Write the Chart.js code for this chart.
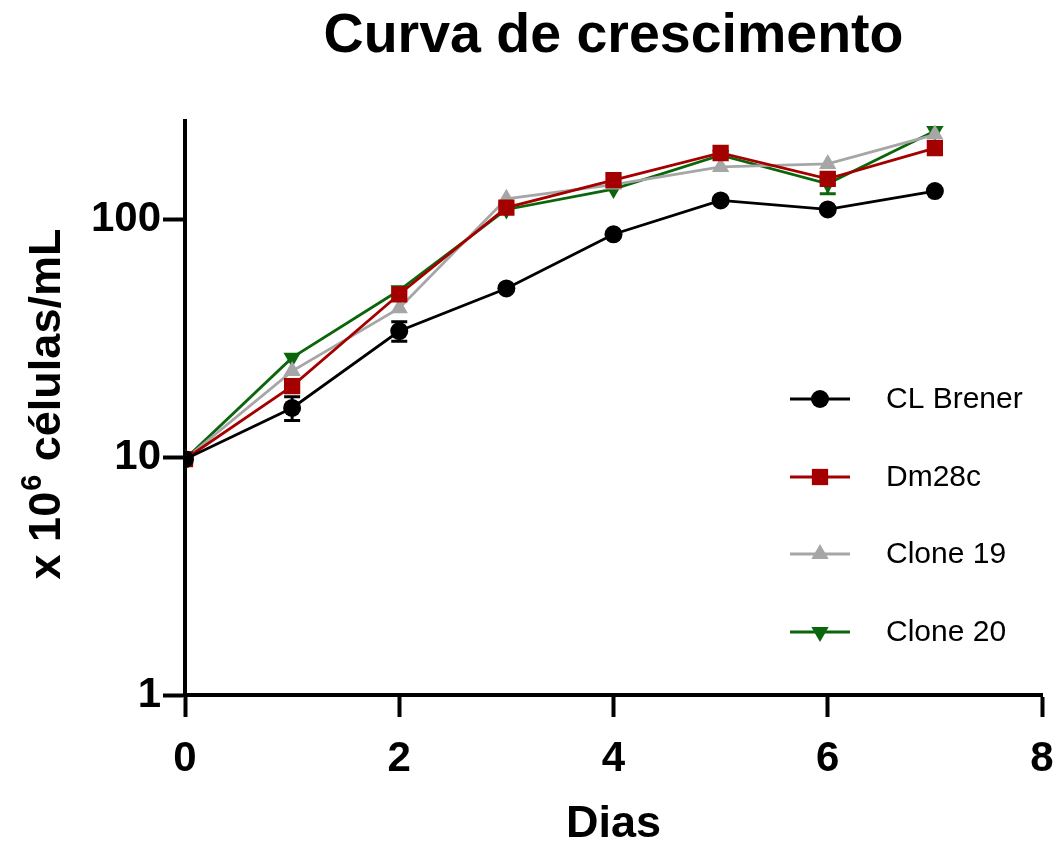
<!DOCTYPE html>
<html>
<head>
<meta charset="utf-8">
<script src="https://cdn.jsdelivr.net/npm/chart.js@4.4.1/dist/chart.umd.min.js"></script>
<style>
  html, body { margin: 0; padding: 0; background: #fff; }
</style>
</head>
<body>
<canvas id="growth" width="1057" height="843"></canvas>
<script>
// cell counts (x 10^6 cells/mL) per day
const days = [0, 1, 2, 3, 4, 5, 6, 7];
const clBrener = [9.8, 16.1, 33.9, 51.2, 86.5, 120, 110, 131.5];
const clBrenerSd = [0, 1.85, 3.2, 0, 0, 0, 0, 0];
const dm28c = [9.8, 19.9, 48.4, 112, 146, 190, 148, 199];
const dm28cSd = [0, 0, 0, 0, 0, 0, 0, 0];
const clone19 = [9.8, 23.0, 42.3, 122, 140, 166, 171, 227];
const clone19Sd = [0, 0, 0, 0, 0, 0, 0, 0];
const clone20 = [9.8, 26.2, 50.3, 110, 134, 186, 141, 235];
const clone20Sd = [0, 0, 0, 0, 0, 0, 13, 0];
const yTicks = [1, 10, 100];
const xTicks = [0, 2, 4, 6, 8];

const FONT = "'Liberation Sans', Arial, sans-serif";

const series = [
  { label: "CL Brener", values: clBrener, sd: clBrenerSd, color: "#000000", style: "circle", radius: 9, rotation: 0, order: 0 },
  { label: "Dm28c", values: dm28c, sd: dm28cSd, color: "#a50000", style: "rect", radius: 11.5, rotation: 0, order: 1 },
  { label: "Clone 19", values: clone19, sd: clone19Sd, color: "#a6a6a6", style: "triangle", radius: 10, rotation: 0, order: 2 },
  { label: "Clone 20", values: clone20, sd: clone20Sd, color: "#0b650b", style: "triangle", radius: 10, rotation: 180, order: 3 },
];

const datasets = series.map(s => ({
  label: s.label,
  data: days.map((d, i) => ({ x: d, y: s.values[i] })),
  sd: s.sd,
  borderColor: s.color,
  backgroundColor: s.color,
  borderWidth: 2.8,
  pointStyle: s.style,
  pointRadius: s.radius,
  pointRotation: s.rotation,
  pointBorderWidth: 0,
  pointBackgroundColor: s.color,
  order: s.order,
  tension: 0,
}));

// vertical error bars with caps
const errorBars = {
  id: "errorBars",
  beforeDatasetsDraw(chart) {
    const { ctx, scales: { x, y } } = chart;
    ctx.save();
    ctx.lineWidth = 3;
    chart.data.datasets.forEach(ds => {
      ctx.strokeStyle = ds.borderColor;
      ds.data.forEach((p, i) => {
        const e = ds.sd[i];
        if (!e) return;
        const px = x.getPixelForValue(p.x);
        const top = y.getPixelForValue(p.y + e);
        const bot = y.getPixelForValue(p.y - e);
        ctx.beginPath();
        ctx.moveTo(px, top); ctx.lineTo(px, bot);
        ctx.moveTo(px - 8, top); ctx.lineTo(px + 8, top);
        ctx.moveTo(px - 8, bot); ctx.lineTo(px + 8, bot);
        ctx.stroke();
      });
    });
    ctx.restore();
  }
};

// legend inside the plot + y axis title with superscript
const extras = {
  id: "extras",
  afterDraw(chart) {
    const ctx = chart.ctx;
    ctx.save();
    const rowY = [399, 477, 554, 632];
    chart.data.datasets.forEach((ds, i) => {
      const yy = rowY[i];
      ctx.strokeStyle = ds.borderColor;
      ctx.lineWidth = 2.8;
      ctx.beginPath();
      ctx.moveTo(790, yy); ctx.lineTo(850, yy);
      ctx.stroke();
      ctx.fillStyle = ds.backgroundColor;
      Chart.helpers.drawPoint(ctx, {
        pointStyle: ds.pointStyle, radius: ds.pointRadius, rotation: ds.pointRotation, borderWidth: 0
      }, 820, yy);
      ctx.fillStyle = "#000";
      ctx.font = "30px " + FONT;
      ctx.textAlign = "left";
      ctx.textBaseline = "middle";
      ctx.fillText(ds.label, 886, yy + 1);
    });

    // y axis title
    ctx.translate(48, 405);
    ctx.rotate(-Math.PI / 2);
    ctx.fillStyle = "#000";
    ctx.textBaseline = "middle";
    ctx.textAlign = "left";
    const big = "bold 45px " + FONT, small = "bold 29px " + FONT;
    const a = "x 10", b = "6", c = " células/mL";
    ctx.font = big; const wa = ctx.measureText(a).width, wc = ctx.measureText(c).width;
    ctx.font = small; const wb = ctx.measureText(b).width;
    let x0 = -(wa + wb + wc) / 2;
    ctx.font = big; ctx.fillText(a, x0, 0);
    ctx.font = small; ctx.fillText(b, x0 + wa + 1, -15);
    ctx.font = big; ctx.fillText(c, x0 + wa + wb + 2, 0);
    ctx.restore();
  }
};

new Chart(document.getElementById("growth"), {
  type: "line",
  data: { datasets },
  plugins: [errorBars, extras],
  options: {
    responsive: false,
    animation: false,
    layout: { padding: { left: 0, right: 15, top: 0, bottom: 0 } },
    plugins: {
      legend: { display: false },
      tooltip: { enabled: false },
      title: {
        display: true,
        text: "Curva de crescimento",
        fullSize: false,
        color: "#000",
        font: { family: FONT, size: 55.5, weight: "bold", lineHeight: 1.2 },
        padding: { top: 3, bottom: 51 },
      },
    },
    scales: {
      x: {
        type: "linear",
        min: 0,
        max: 8,
        afterBuildTicks: s => { s.ticks = xTicks.map(v => ({ value: v })); },
        afterFit: s => { s.height = 148; s.paddingLeft = 0; s.paddingRight = 0; },
        grid: { drawOnChartArea: false, tickLength: 22, tickWidth: 4, tickColor: "#000" },
        border: { color: "#000", width: 4 },
        ticks: { color: "#000", padding: 17, font: { family: FONT, size: 42, weight: "bold" } },
        title: {
          display: true, text: "Dias", color: "#000",
          font: { family: FONT, size: 45, weight: "bold", lineHeight: 0.8 }, padding: { top: 0, bottom: 0 }
        },
      },
      y: {
        type: "logarithmic",
        min: 1,
        max: 260,
        afterBuildTicks: s => { s.ticks = yTicks.map(v => ({ value: v })); },
        afterFit: s => { s.width = 185; },
        grid: { drawOnChartArea: false, tickLength: 22, tickWidth: 4, tickColor: "#000" },
        border: { color: "#000", width: 4 },
        ticks: {
          color: "#000", padding: 2,
          font: { family: FONT, size: 42, weight: "bold" },
          callback: v => String(v),
        },
      },
    },
  },
});
</script>
</body>
</html>
